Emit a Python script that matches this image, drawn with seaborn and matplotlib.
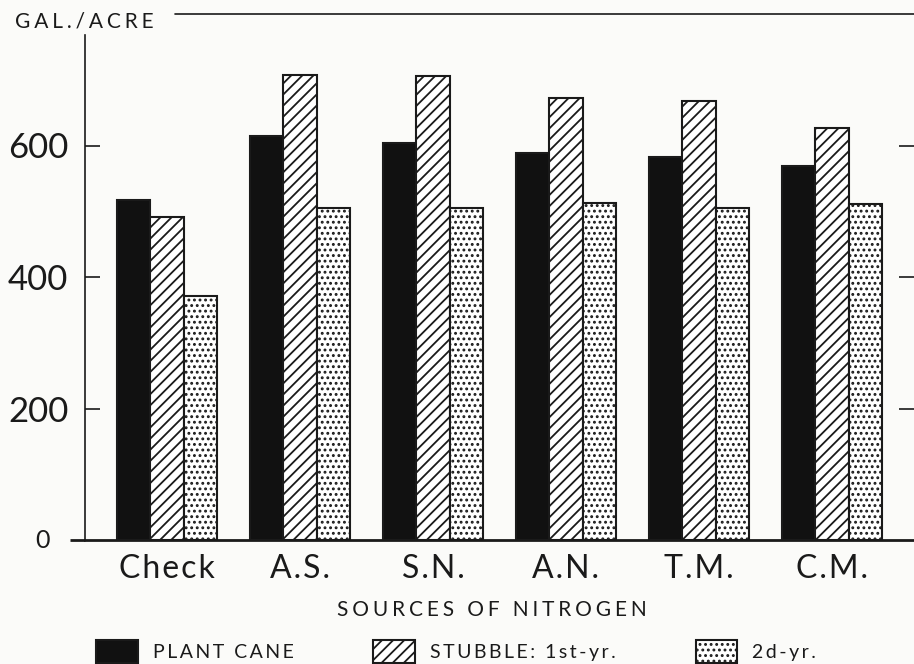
import matplotlib
matplotlib.use("Agg")
import matplotlib.pyplot as plt
import matplotlib.patches as mpatches
import pandas as pd
import seaborn as sns

# Sugarcane yield by nitrogen source (gal./acre)
sources = ["Check", "A.S.", "S.N.", "A.N.", "T.M.", "C.M."]
crops = ["PLANT CANE", "STUBBLE: 1st-yr.", "2d-yr."]
plant_cane = [517, 615, 604, 588, 583, 569]
stubble_1st = [491, 707, 706, 672, 668, 627]
stubble_2d = [371, 505, 505, 513, 505, 511]
y_ticks = [200, 400, 600]

fills = ["#111111", "white", "white"]
hatches = ["", "///", "..."]


def spaced(text, sep="\u2009"):
    # old print look: letter-spaced captions
    return sep.join(text)


df = pd.DataFrame({
    "source": sources * 3,
    "crop": [crops[0]] * 6 + [crops[1]] * 6 + [crops[2]] * 6,
    "gal": plant_cane + stubble_1st + stubble_2d,
})

sns.set_style("white")
plt.rcParams["font.family"] = ["Lato", "DejaVu Sans"]
plt.rcParams["hatch.linewidth"] = 1.3
ink = "#1a1a1a"

fig = plt.figure(figsize=(9.14, 6.64), dpi=100, facecolor="#fbfbf9")
ax = fig.add_axes([85 / 914, 124 / 664, 829 / 914, 526 / 664])
ax.set_facecolor("#fbfbf9")

sns.barplot(data=df, x="source", y="gal", hue="crop", hue_order=crops,
            palette=fills, edgecolor=ink, linewidth=1.5, width=0.75,
            saturation=1, legend=False, ax=ax)

for cont, h in zip(ax.containers, hatches):
    for bar in cont:
        bar.set_hatch(h)

ax.set_xlim(-0.617, 5.617)
ax.set_ylim(0, 800)

# axis frame like the printed original
for side in ["top", "right"]:
    ax.spines[side].set_visible(False)
ax.spines["left"].set_bounds(0, 768)
ax.spines["left"].set_linewidth(1.2)
ax.spines["left"].set_color(ink)
ax.spines["bottom"].set_linewidth(2)
ax.spines["bottom"].set_color(ink)
ax.plot([(70 - 85) / 829, 0], [0, 0], transform=ax.transAxes,
        color=ink, lw=2, clip_on=False, solid_capstyle="butt")
ax.axhline(800, xmin=(175 - 85) / 829, xmax=1, color=ink, lw=1.2,
           clip_on=False)

ax.set_yticks(y_ticks)
ax.set_yticklabels([str(v) for v in y_ticks])
ax.tick_params(axis="y", left=True, right=True, direction="in", length=11,
               width=1.2, color=ink, labelsize=25, pad=12, labelcolor=ink)
ax.set_xticks(range(len(sources)))
ax.set_xticklabels([spaced(s, "\u200a") for s in sources])
ax.tick_params(axis="x", length=0, labelsize=23, pad=10, labelcolor=ink)
ax.set_xlabel("")
ax.set_ylabel("")

fig.text(43 / 914, 1 - 540 / 664, "0", ha="center", va="center",
         fontsize=18, color=ink)
fig.text(15 / 914, 1 - 21 / 664, spaced("GAL./ACRE", "\u2009\u200a"),
         ha="left", va="center", fontsize=15, color=ink)
fig.text(492 / 914, 1 - 610 / 664, spaced("SOURCES OF NITROGEN", "\u2009\u200a"),
         ha="center", va="center", fontsize=15, color=ink)

handles = [mpatches.Patch(facecolor=f, edgecolor=ink, hatch=h, lw=1.5)
           for f, h in zip(fills, hatches)]
labels = [spaced(c) for c in crops]
fig.legend(handles, labels, loc="lower left", bbox_to_anchor=(96 / 914, 1 / 664),
           ncol=3, frameon=False, fontsize=14, handlelength=2.15,
           handleheight=1.45, handletextpad=0.77, columnspacing=4.1,
           borderpad=0, borderaxespad=0, labelcolor=ink)

fig.savefig("out.png", dpi=100, facecolor=fig.get_facecolor())
